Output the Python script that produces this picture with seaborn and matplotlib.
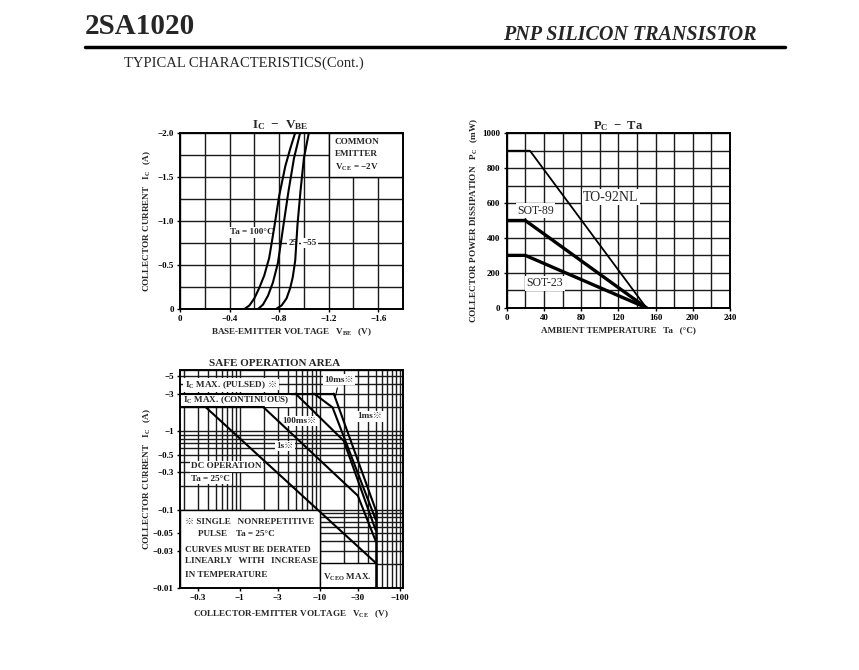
import numpy as np
import matplotlib
matplotlib.use("Agg")
import matplotlib.pyplot as plt
import seaborn as sns
from matplotlib.patches import Rectangle
from matplotlib.lines import Line2D
from matplotlib.ticker import MultipleLocator, FixedLocator

# ---- IC - VBE (values as printed, negative) ----
vbe_100 = [-0.52, -0.56, -0.60, -0.64, -0.68, -0.72, -0.76, -0.80, -0.85, -0.89, -0.93]
ic_100 = [0, -0.04, -0.12, -0.24, -0.38, -0.58, -0.92, -1.28, -1.62, -1.82, -2.0]
vbe_25 = [-0.63, -0.67, -0.71, -0.75, -0.79, -0.835, -0.875, -0.92, -0.97]
ic_25 = [0, -0.05, -0.15, -0.30, -0.52, -0.95, -1.33, -1.71, -2.0]
vbe_m55 = [-0.775, -0.82, -0.86, -0.89, -0.91, -0.93, -0.948, -0.972, -1.0, -1.04]
ic_m55 = [0, -0.04, -0.12, -0.24, -0.36, -0.55, -0.95, -1.33, -1.71, -2.0]
vbe_ticks = [0, -0.4, -0.8, -1.2, -1.6]
vbe_labels = ["0", "\u22120.4", "\u22120.8", "\u22121.2", "\u22121.6"]
ic_ticks = [0, -0.5, -1.0, -1.5, -2.0]
ic_labels = ["0", "\u22120.5", "\u22121.0", "\u22121.5", "\u22122.0"]

# ---- PC - Ta ----
ta_to92 = [0, 25, 150]
pc_to92 = [900, 900, 0]
ta_sot89 = [0, 20, 150]
pc_sot89 = [500, 500, 0]
ta_sot23 = [0, 20, 150]
pc_sot23 = [300, 300, 0]
ta_ticks = [0, 40, 80, 120, 160, 200, 240]
pc_ticks = [0, 200, 400, 600, 800, 1000]

# ---- Safe operation area (magnitudes, axis printed negative) ----
vce_pulsed = [0.18, 15]
ic_pulsed = [3, 3]
vce_cont = [0.18, 2]
ic_cont = [2, 2]
vce_1ms = [15, 50]
ic_1ms = [3, 0.1]
vce_10ms = [8.5, 14.5, 50]
ic_10ms = [3, 2, 0.075]
vce_100ms = [5, 20, 50]
ic_100ms = [3, 0.75, 0.055]
vce_1s = [2, 30, 50]
ic_1s = [2, 0.15, 0.04]
vce_dc = [0.38, 50]
ic_dc = [2, 0.021]
vce_max = [50, 50]
ic_vmax = [0.1, 0.01]
vce_ticks = [0.3, 1, 3, 10, 30, 100]
vce_labels = ["\u22120.3", "\u22121", "\u22123", "\u221210", "\u221230", "\u2212100"]
soa_ic_ticks = [5, 3, 1, 0.5, 0.3, 0.1, 0.05, 0.03, 0.01]
soa_ic_labels = ["\u22125", "\u22123", "\u22121", "\u22120.5", "\u22120.3", "\u22120.1",
                 "\u22120.05", "\u22120.03", "\u22120.01"]

sns.set_style("ticks")
plt.rcParams['font.family'] = ['Liberation Serif', 'DejaVu Serif', 'Noto Sans CJK JP']
plt.rcParams['font.weight'] = 'bold'
plt.rcParams['axes.labelweight'] = 'bold'
plt.rcParams['axes.titleweight'] = 'bold'
plt.rcParams['mathtext.fontset'] = 'custom'
plt.rcParams['mathtext.rm'] = 'Liberation Serif:bold'
plt.rcParams['mathtext.default'] = 'rm'

W, H = 859, 670
FS = 6.6
fig = plt.figure(figsize=(W / 100, H / 100), dpi=100)
fig.patch.set_facecolor('white')


def ax_at(left, top, right, bottom):
    return fig.add_axes([left / W, 1 - bottom / H, (right - left) / W, (bottom - top) / H])


def style(ax):
    ax.set_axisbelow(True)
    ax.grid(which='both', color='0.1', lw=1.0)
    for s in ax.spines.values():
        s.set_color('black')
        s.set_linewidth(1.4)
    ax.tick_params(which='major', length=2.5, width=1, labelsize=6.5, pad=2, colors='black')
    ax.tick_params(which='minor', length=0)


def line(ax, x, y, lw=1.5):
    sns.lineplot(x=x, y=y, ax=ax, color='black', lw=lw, sort=False, estimator=None)


def mark(ax, t):
    # reference mark after a mathtext label
    ax.annotate("\u203b", xy=(1, 0.5), xycoords=t, xytext=(2, 0), textcoords='offset points',
                fontsize=FS, va='center', zorder=1.6, bbox=box)


box = dict(facecolor='white', edgecolor='none', pad=1.0)

# header
fig.text(85 / W, 1 - 26 / H, "2SA1020", fontsize=21, weight='bold', va='center')
fig.text(757 / W, 1 - 35 / H, "PNP SILICON TRANSISTOR", fontsize=14.5, weight='bold',
         style='italic', ha='right', va='center')
fig.add_artist(Line2D([85 / W, 785 / W], [1 - 47 / H, 1 - 47 / H], color='black', lw=2.5))
fig.text(124 / W, 1 - 63 / H, "TYPICAL CHARACTERISTICS(Cont.)", fontsize=10.5,
         weight='normal', va='center')

# 1. IC - VBE
ax1 = ax_at(180, 132.7, 403, 309)
line(ax1, vbe_100, ic_100)
line(ax1, vbe_25, ic_25)
line(ax1, vbe_m55, ic_m55)
ax1.set_xlim(0, -1.8)
ax1.set_ylim(0, -2.0)
ax1.set_xticks(vbe_ticks)
ax1.set_xticklabels(vbe_labels)
ax1.set_yticks(ic_ticks)
ax1.set_yticklabels(ic_labels)
ax1.xaxis.set_minor_locator(MultipleLocator(0.2))
ax1.yaxis.set_minor_locator(MultipleLocator(0.25))
style(ax1)
ax1.add_patch(Rectangle((-1.2, -1.5), -0.6, -0.5, facecolor='white', edgecolor='black',
                        lw=1.0, zorder=1))
ax1.text(-1.25, -1.89, "COMMON", fontsize=FS, va='center')
ax1.text(-1.25, -1.76, "EMITTER", fontsize=FS, va='center')
ax1.text(-1.25, -1.61, "V$_{CE}$ = \u22122V", fontsize=FS, va='center')
ax1.text(-0.755, -0.87, "Ta = 100\u00b0C", fontsize=FS, va='center', ha='right', bbox=box, zorder=1.5)
ax1.text(-0.875, -0.75, "25", fontsize=FS, va='center', bbox=box, zorder=1.5)
ax1.text(-0.985, -0.75, "\u221255", fontsize=FS, va='center', bbox=box, zorder=1.5)
ax1.set_title("I$_C$  \u2212  V$_{BE}$", fontsize=9.5, x=0.448, y=1.0, pad=3)
ax1.set_xlabel("BASE-EMITTER VOLTAGE   V$_{BE}$   (V)", fontsize=FS)
ax1.set_ylabel("COLLECTOR CURRENT   I$_C$   (A)", fontsize=FS)
ax1.xaxis.set_label_coords(0.5, -0.097)
ax1.yaxis.set_label_coords(-0.12, 0.5)

# 2. PC - Ta
ax2 = ax_at(506.7, 133.3, 730, 307.7)
line(ax2, ta_to92, pc_to92, lw=1.3)
line(ax2, ta_sot89, pc_sot89, lw=2.4)
line(ax2, ta_sot23, pc_sot23, lw=2.4)
ax2.set_xlim(0, 240)
ax2.set_ylim(0, 1000)
ax2.set_xticks(ta_ticks)
ax2.set_yticks(pc_ticks)
ax2.xaxis.set_minor_locator(MultipleLocator(20))
ax2.yaxis.set_minor_locator(MultipleLocator(100))
style(ax2)
ax2.text(82, 634, "TO-92NL", fontsize=10, weight='normal', va='center', bbox=box, zorder=1.5)
ax2.text(11, 556, "SOT-89", fontsize=8.5, weight='normal', va='center', bbox=box, zorder=1.5)
ax2.text(21.5, 141, "SOT-23", fontsize=8.5, weight='normal', va='center', bbox=box, zorder=1.5)
ax2.set_title("P$_C$  \u2212  Ta", fontsize=9, pad=3)
ax2.set_xlabel("AMBIENT TEMPERATURE   Ta   (\u00b0C)", fontsize=FS)
ax2.set_ylabel("COLLECTOR POWER DISSIPATION   P$_C$   (mW)", fontsize=FS)
ax2.xaxis.set_label_coords(0.5, -0.105)
ax2.yaxis.set_label_coords(-0.12, 0.5)

# 3. Safe operation area
ax3 = ax_at(180, 370, 403, 588)
ax3.set_xscale('log')
ax3.set_yscale('log')
line(ax3, vce_pulsed, ic_pulsed)
line(ax3, vce_cont, ic_cont)
line(ax3, vce_1ms, ic_1ms)
line(ax3, vce_10ms, ic_10ms)
line(ax3, vce_100ms, ic_100ms)
line(ax3, vce_1s, ic_1s)
line(ax3, vce_dc, ic_dc)
line(ax3, vce_max, ic_vmax, lw=1.8)
ax3.set_xlim(0.18, 110)
ax3.set_ylim(0.01, 6)
ax3.xaxis.set_major_locator(FixedLocator(vce_ticks))
ax3.set_xticklabels(vce_labels)
ax3.yaxis.set_major_locator(FixedLocator(soa_ic_ticks))
ax3.set_yticklabels(soa_ic_labels)
ax3.xaxis.set_minor_locator(FixedLocator([m * d for d in (0.1, 1, 10) for m in range(2, 10)] + [1, 10, 100]))
ax3.yaxis.set_minor_locator(FixedLocator([m * d for d in (0.01, 0.1, 1) for m in range(1, 10)]))
style(ax3)
ax3.add_patch(Rectangle((0.18, 0.01), 10 - 0.18, 0.1 - 0.01, facecolor='white',
                        edgecolor='black', lw=1.0, zorder=1))
ax3.add_patch(Rectangle((10, 0.01), 40, 0.021 - 0.01, facecolor='white',
                        edgecolor='black', lw=1.0, zorder=1))
t = ax3.text(0.205, 3.88, "I$_C$ MAX. (PULSED)", fontsize=FS, va='center', bbox=box, zorder=1.5)
mark(ax3, t)
ax3.text(0.194, 2.51, "I$_C$ MAX. (CONTINUOUS)", fontsize=FS, va='center', bbox=box, zorder=1.5)
ax3.annotate("10ms\u203b", xy=(15.4, 2.5), xytext=(11.5, 4.5), fontsize=FS, va='center',
             bbox=box, zorder=1.5, arrowprops=dict(arrowstyle='-', color='black', lw=0.8))
ax3.text(29.9, 1.55, "1ms\u203b", fontsize=FS, va='center', bbox=box, zorder=1.5)
ax3.text(3.45, 1.34, "100ms\u203b", fontsize=FS, va='center', bbox=box, zorder=1.5)
ax3.text(2.9, 0.647, "1s\u203b", fontsize=FS, va='center', bbox=box, zorder=1.5)
ax3.text(0.25, 0.355, "DC OPERATION", fontsize=FS, va='center', bbox=box, zorder=1.5)
ax3.text(0.25, 0.246, "Ta = 25\u00b0C", fontsize=FS, va='center', bbox=box, zorder=1.5)
ax3.text(0.205, 0.0699, "\u203b SINGLE   NONREPETITIVE", fontsize=FS, va='center', zorder=1.5)
ax3.text(0.30, 0.0489, "PULSE    Ta = 25\u00b0C", fontsize=FS, va='center', zorder=1.5)
ax3.text(0.205, 0.0307, "CURVES MUST BE DERATED", fontsize=FS, va='center', zorder=1.5)
ax3.text(0.205, 0.0219, "LINEARLY   WITH   INCREASE", fontsize=FS, va='center', zorder=1.5)
ax3.text(0.205, 0.0148, "IN TEMPERATURE", fontsize=FS, va='center', zorder=1.5)
ax3.text(10.9, 0.0138, "V$_{CEO}$ MAX.", fontsize=FS, va='center', zorder=1.5)
ax3.set_title("SAFE OPERATION AREA", fontsize=8, x=0.426, pad=3)
ax3.set_xlabel("COLLECTOR-EMITTER VOLTAGE   V$_{CE}$   (V)", fontsize=FS)
ax3.set_ylabel("COLLECTOR CURRENT   I$_C$   (A)", fontsize=FS)
ax3.xaxis.set_label_coords(0.5, -0.092)
ax3.yaxis.set_label_coords(-0.12, 0.5)

plt.savefig("out.png", dpi=100, facecolor='white')
plt.close()
